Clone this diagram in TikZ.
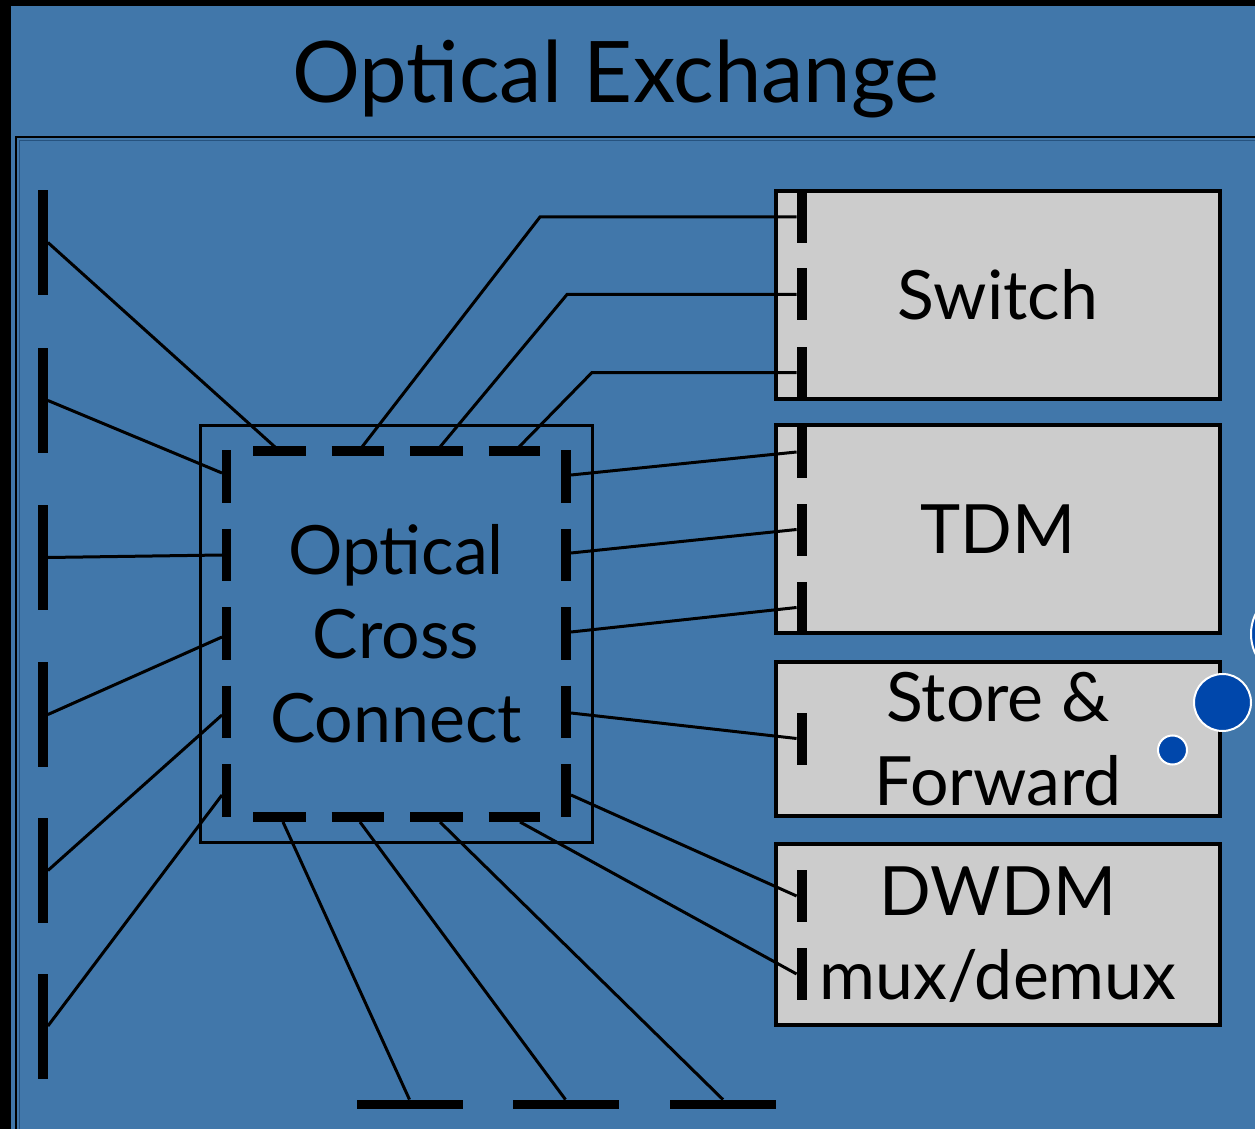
\documentclass[tikz,border=0pt]{standalone}
\usepackage{fontspec}
\setmainfont{Lato}
\definecolor{oxblue}{RGB}{65,119,170}
\definecolor{oxdark}{RGB}{38,82,126}
\definecolor{oxdot}{RGB}{0,71,171}
\definecolor{oxgrey}{RGB}{204,204,204}

\begin{document}
\begin{tikzpicture}[x=0.5pt,y=-0.5pt,font=\fontsize{34}{42}\selectfont,
      wire/.style={line width=1.5pt},
      port/.style={fill=black,inner sep=0pt,minimum width=5pt,minimum height=26pt},
      edgeport/.style={port,minimum height=52.5pt},
      baseport/.style={fill=black,inner sep=0pt,minimum width=53pt,minimum height=4.5pt},
      unit/.style={draw,line width=2pt,fill=oxgrey,minimum width=222pt,inner sep=0pt,align=center},
      xconnect/.style={draw,line width=1.5pt,minimum width=196pt,minimum height=208.5pt,inner sep=0pt,align=center},
      portdash/.style={line width=4.75pt,dash pattern=on 26.25pt off 13pt},
      dot/.style={fill=oxdot,draw=white,line width=1pt}]
      \useasboundingbox (0,0) rectangle (1255,1129);
      \clip (0,0) rectangle (1255,1129);
      \fill[black] (0,0) rectangle (1255,1129);
      \fill[oxblue] (11,6) rectangle (1255,1129);
      \draw[line width=1pt] (1260,137) -- (16,137) -- (16,1135);
      \draw[oxdark,line width=0.75pt] (1260,140.5) -- (19.5,140.5) -- (19.5,1135);
      \node[anchor=base,font=\fontsize{42.5}{50}\selectfont] (title) at (616,103) {Optical Exchange};

      \node[xconnect] (oxc) at (396,633.5) {Optical\\Cross\\Connect};
      \draw[portdash] (226.5,450) -- (226.5,817) (566,450) -- (566,817)
        (253,451) -- (540,451) (253,817) -- (540,817);
      \foreach \y [count=\i] in {473,555,637,715,795} \coordinate (ol\i) at (222,\y);
      \foreach \y [count=\i] in {475,553,632,713,795} \coordinate (or\i) at (571,\y);
      \foreach \x [count=\i] in {275,362,440,519} \coordinate (ot\i) at (\x,447);
      \foreach \x [count=\i] in {283,360,440,520} \coordinate (ob\i) at (\x,822);

      \node[unit,minimum height=104pt] (switch) at (998,295) {Switch};
      \node[unit,minimum height=104pt] (tdm) at (998,529) {TDM};
      \node[unit,minimum height=77pt] (store) at (998,739) {Store \&\\Forward};
      \node[unit,minimum height=90.5pt] (dwdm) at (998,934.5) {DWDM\\mux/demux};

      \foreach \y [count=\i] in {242.5,400.5,557.5,714.5,870.5,1026} \node[edgeport] (lp\i) at (42.5,\y) {};
      \foreach \y [count=\i] in {217,294.5,372.5} \node[port] (sw\i) at (802,\y) {};
      \foreach \y [count=\i] in {452,529.5,607.5} \node[port] (td\i) at (802,\y) {};
      \node[port] (sf1) at (802,738.5) {};
      \node[port] (dw1) at (802,896) {};
      \node[port] (dw2) at (802,974) {};
      \foreach \x [count=\i] in {409.5,565.5,723} \node[baseport] (bp\i) at (\x,1104.5) {};

      \foreach \a/\b in {lp1/ot1,lp2/ol1,lp3/ol2,lp4/ol3,lp5/ol4,lp6/ol5} \draw[wire] (\a.east) -- (\b);
      \draw[wire] (ot2) -- (sw1.west -| 540,0) -- (sw1.west);
      \draw[wire] (ot3) -- (sw2.west -| 567,0) -- (sw2.west);
      \draw[wire] (ot4) -- (sw3.west -| 592,0) -- (sw3.west);
      \foreach \a/\b in {or1/td1,or2/td2,or3/td3,or4/sf1,or5/dw1,ob4/dw2} \draw[wire] (\a) -- (\b.west);
      \foreach \a/\b in {ob1/bp1,ob2/bp2,ob3/bp3} \draw[wire] (\a) -- (\b.north);

      \fill[dot] (1222.5,702.5) circle[radius=28.5];
      \fill[dot] (1172.5,750) circle[radius=14.5];
      \fill[dot] (1297,634) circle[radius=46];
    \end{tikzpicture}
\end{document}
